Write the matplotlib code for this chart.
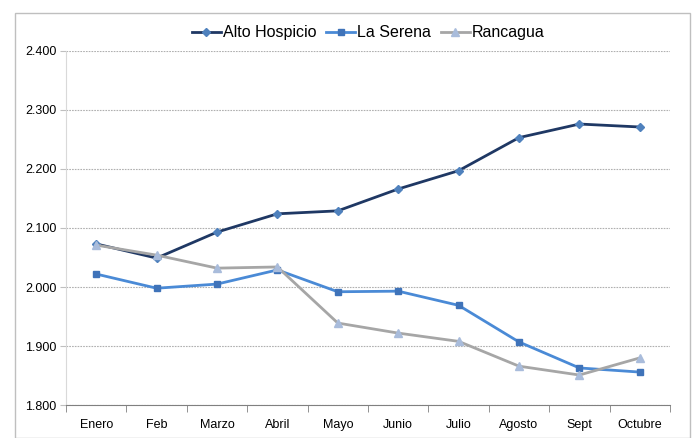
import matplotlib
matplotlib.use("Agg")
import matplotlib.pyplot as plt
from matplotlib.ticker import FuncFormatter, FixedLocator
from matplotlib.patches import Rectangle

months = ["Enero", "Feb", "Marzo", "Abril", "Mayo", "Junio", "Julio", "Agosto", "Sept", "Octubre"]
alto_hospicio = [2.073, 2.049, 2.093, 2.124, 2.129, 2.166, 2.197, 2.253, 2.276, 2.271]
la_serena = [2.022, 1.998, 2.005, 2.029, 1.992, 1.993, 1.969, 1.907, 1.863, 1.856]
rancagua = [2.071, 2.054, 2.032, 2.034, 1.939, 1.922, 1.908, 1.866, 1.851, 1.880]
yticks = [1.8, 1.9, 2.0, 2.1, 2.2, 2.3, 2.4]

plt.rcParams['font.family'] = ['Liberation Sans', 'DejaVu Sans']

fig = plt.figure(figsize=(6.95, 4.38), dpi=100)
ax = fig.add_axes([0.095, 0.075, 0.869, 0.809])

fig.patches.append(Rectangle((15/695, 0.0), 675/695, 1 - 13/438, transform=fig.transFigure,
                             fill=False, edgecolor='#BFBFBF', linewidth=1.0))

x = list(range(len(months)))
ax.plot(x, alto_hospicio, color='#1F3864', linewidth=2, marker='D', markersize=4,
        markerfacecolor='#4F81BD', markeredgecolor='#4F81BD', label='Alto Hospicio', zorder=3)
ax.plot(x, la_serena, color='#4A8AD6', linewidth=2, marker='s', markersize=5,
        markerfacecolor='#3F73B9', markeredgecolor='#3F73B9', label='La Serena', zorder=3)
ax.plot(x, rancagua, color='#A6A6A6', linewidth=2, marker='^', markersize=6,
        markerfacecolor='#A9BCDB', markeredgecolor='#A9BCDB', label='Rancagua', zorder=3)

ax.set_xlim(-0.5, len(months) - 0.5)
ax.set_ylim(1.8, 2.4)
ax.set_yticks(yticks)
ax.yaxis.set_major_formatter(FuncFormatter(lambda v, p: f"{v:.3f}"))
ax.set_xticks(x)
ax.set_xticklabels(months, fontsize=9)
ax.xaxis.set_minor_locator(FixedLocator([i - 0.5 for i in range(len(months) + 1)]))
ax.tick_params(axis='x', which='major', length=0, pad=10)
ax.tick_params(axis='x', which='minor', length=5, color='#808080', direction='out')
ax.tick_params(axis='y', length=4, color='#BFBFBF', labelsize=9, pad=3)

ax.grid(axis='y', linestyle=(0, (1.5, 1)), color='#B0B0B0', linewidth=0.8)
ax.set_axisbelow(True)
for s in ['top', 'right']:
    ax.spines[s].set_visible(False)
ax.spines['left'].set_color('#D9D9D9')
ax.spines['bottom'].set_color('#808080')

leg = fig.legend(loc='center', bbox_to_anchor=(0.53, 0.925), ncol=3, frameon=False,
                 fontsize=11.5, handlelength=1.8, handletextpad=0.15, columnspacing=0.6)

fig.savefig("out.png", dpi=100)
